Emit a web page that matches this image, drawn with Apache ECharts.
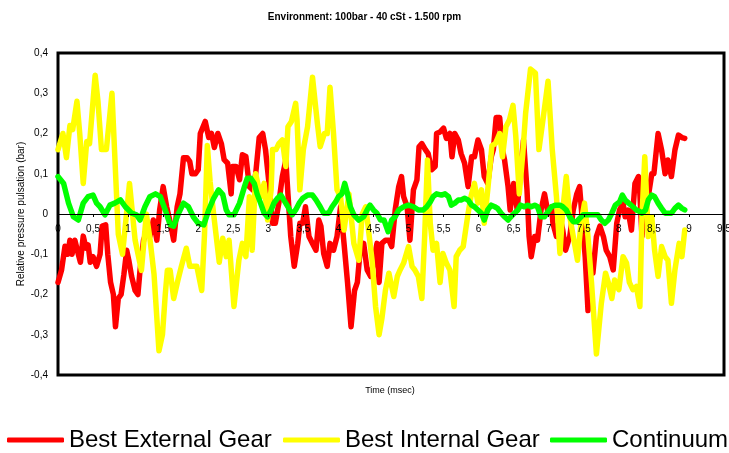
<!DOCTYPE html>
<html>
<head>
<meta charset="utf-8">
<script src="https://cdn.jsdelivr.net/npm/echarts@6/dist/echarts.min.js"></script>
<style>html,body{margin:0;padding:0;background:#fff;}#c{width:729px;height:453px;}</style>
</head>
<body>
<div id="c"></div>
<script>
var titleText = 'Environment: 100bar - 40 cSt - 1.500 rpm';
var xName = 'Time (msec)';
var yName = 'Relative pressure pulsation (bar)';
var seriesNames = ['Best External Gear', 'Best Internal Gear', 'Continuum'];

var extT = [0.00,0.05,0.10,0.14,0.17,0.20,0.24,0.29,0.32,0.36,0.40,0.43,0.46,0.50,0.55,0.60,0.63,0.68,0.71,0.75,0.79,0.82,0.86,0.90,0.94,0.98,1.01,1.05,1.10,1.14,1.17,1.22,1.27,1.31,1.36,1.41,1.45,1.50,1.55,1.60,1.65,1.70,1.74,1.79,1.84,1.88,1.91,1.96,2.00,2.03,2.10,2.15,2.19,2.23,2.28,2.33,2.37,2.42,2.47,2.49,2.54,2.59,2.63,2.68,2.73,2.78,2.82,2.87,2.92,2.96,3.01,3.06,3.10,3.15,3.20,3.25,3.28,3.32,3.37,3.42,3.45,3.49,3.53,3.58,3.63,3.68,3.72,3.75,3.79,3.84,3.88,3.93,3.98,4.03,4.08,4.13,4.18,4.23,4.27,4.31,4.36,4.41,4.46,4.50,4.55,4.58,4.62,4.67,4.72,4.76,4.81,4.86,4.90,4.93,4.98,5.02,5.07,5.12,5.15,5.19,5.24,5.28,5.33,5.38,5.40,5.45,5.50,5.54,5.59,5.62,5.66,5.71,5.75,5.80,5.85,5.90,5.94,5.99,6.04,6.08,6.13,6.18,6.21,6.25,6.30,6.34,6.37,6.42,6.45,6.50,6.55,6.59,6.64,6.69,6.72,6.75,6.80,6.84,6.89,6.94,6.99,7.04,7.06,7.11,7.16,7.20,7.24,7.30,7.35,7.40,7.44,7.49,7.52,7.56,7.59,7.63,7.68,7.73,7.78,7.82,7.87,7.92,7.97,8.01,8.06,8.09,8.13,8.18,8.23,8.28,8.30,8.33,8.38,8.42,8.47,8.50,8.56,8.61,8.66,8.70,8.75,8.80,8.85,8.90,8.94];
var extV = [-0.17,-0.14,-0.08,-0.10,-0.065,-0.10,-0.065,-0.10,-0.12,-0.055,-0.085,-0.077,-0.12,-0.106,-0.13,-0.10,-0.03,-0.027,-0.10,-0.17,-0.20,-0.28,-0.21,-0.20,-0.15,-0.09,-0.115,-0.155,-0.19,-0.20,-0.14,-0.065,-0.04,-0.056,-0.015,-0.065,0.01,0.068,0.018,-0.02,-0.065,0.018,0.05,0.14,0.14,0.13,0.10,0.10,0.11,0.20,0.23,0.19,0.20,0.165,0.20,0.175,0.135,0.126,0.05,0.118,0.118,0.085,0.147,0.143,0.068,0.06,0.10,0.19,0.20,0.16,0.076,-0.023,-0.023,0.027,0.093,0.134,0.05,-0.056,-0.13,-0.073,-0.023,-0.023,0.018,-0.056,-0.073,-0.09,-0.015,-0.03,-0.098,-0.13,-0.073,-0.09,-0.056,0.018,-0.073,-0.17,-0.28,-0.19,-0.17,-0.09,-0.073,-0.139,-0.155,-0.122,-0.073,-0.17,-0.073,-0.065,-0.065,-0.081,0.01,0.068,0.093,0.043,0.018,-0.065,0.06,0.085,0.167,0.175,0.16,0.15,0.11,0.118,0.20,0.204,0.213,0.188,0.20,0.142,0.20,0.184,0.15,0.126,0.068,0.142,0.142,0.184,0.16,0.093,0.076,0.142,0.16,0.24,0.24,0.16,0.134,0.068,0.01,0.076,0.01,0.093,0.184,0.06,-0.056,-0.106,-0.056,-0.065,0.01,0.05,0.002,0.018,-0.023,-0.056,-0.007,-0.04,-0.09,-0.056,0.01,0.05,0.068,-0.04,-0.106,-0.24,-0.122,-0.147,-0.056,-0.03,-0.056,-0.09,-0.106,-0.139,-0.023,0.01,0.027,-0.007,0.01,-0.04,0.076,0.093,0.05,-0.056,0.05,0.043,0.10,0.10,0.20,0.159,0.10,0.134,0.093,0.159,0.196,0.19,0.188];

var intT = [0.00,0.07,0.12,0.17,0.21,0.27,0.31,0.36,0.41,0.45,0.53,0.57,0.62,0.69,0.77,0.86,0.92,1.02,1.10,1.19,1.26,1.31,1.37,1.44,1.49,1.53,1.56,1.60,1.65,1.71,1.76,1.83,1.88,1.93,1.98,2.05,2.09,2.13,2.17,2.22,2.30,2.35,2.40,2.44,2.51,2.58,2.63,2.68,2.73,2.77,2.82,2.89,2.94,2.99,3.04,3.06,3.11,3.15,3.20,3.25,3.28,3.33,3.39,3.41,3.45,3.50,3.56,3.63,3.70,3.74,3.80,3.84,3.88,3.93,3.98,4.03,4.08,4.15,4.22,4.29,4.34,4.39,4.44,4.48,4.53,4.58,4.62,4.67,4.72,4.79,4.84,4.88,4.93,5.00,5.05,5.09,5.14,5.19,5.23,5.27,5.31,5.35,5.40,5.45,5.49,5.54,5.59,5.65,5.68,5.73,5.78,5.85,5.89,5.94,5.99,6.04,6.08,6.13,6.19,6.24,6.30,6.34,6.39,6.44,6.49,6.53,6.58,6.63,6.67,6.74,6.81,6.86,6.93,6.99,7.05,7.11,7.16,7.20,7.25,7.30,7.35,7.41,7.46,7.51,7.56,7.61,7.68,7.75,7.81,7.85,7.90,7.94,8.00,8.06,8.11,8.15,8.20,8.25,8.30,8.33,8.37,8.42,8.47,8.51,8.56,8.61,8.66,8.70,8.75,8.80,8.86,8.90,8.94];
var intV = [0.16,0.20,0.14,0.22,0.21,0.28,0.20,0.076,0.18,0.175,0.345,0.28,0.16,0.16,0.30,-0.05,-0.10,0.076,-0.065,-0.14,0.00,-0.06,-0.15,-0.34,-0.30,-0.20,-0.14,-0.14,-0.21,-0.165,-0.13,-0.085,-0.13,-0.13,-0.13,-0.19,-0.05,0.17,0.08,0.00,-0.12,-0.06,-0.106,-0.065,-0.23,-0.115,-0.073,-0.106,0.043,-0.09,0.10,0.043,0.076,-0.015,0.06,0.16,0.16,0.175,0.184,0.118,0.217,0.23,0.275,0.234,0.06,0.16,0.217,0.34,0.225,0.167,0.20,0.20,0.315,0.20,0.06,0.043,-0.04,0.05,-0.073,-0.115,0.00,0.018,-0.056,-0.115,-0.23,-0.30,-0.26,-0.19,-0.147,-0.205,-0.155,-0.139,-0.122,-0.081,-0.13,-0.139,-0.155,-0.21,-0.056,0.134,-0.023,-0.09,-0.073,-0.17,-0.098,-0.122,-0.139,-0.23,-0.106,-0.09,-0.081,0.002,0.043,0.076,0.027,0.06,-0.023,0.06,0.17,0.175,0.20,0.142,0.217,0.234,0.27,0.193,0.05,0.15,0.25,0.36,0.35,0.16,0.25,0.33,0.16,0.043,-0.098,0.01,0.093,-0.007,-0.056,-0.115,-0.023,0.027,-0.056,-0.17,-0.348,-0.222,-0.147,-0.17,-0.21,-0.164,-0.188,-0.106,-0.122,-0.17,-0.188,-0.18,-0.23,-0.007,0.142,-0.056,-0.007,-0.09,-0.155,-0.081,-0.106,-0.115,-0.222,-0.139,-0.073,-0.106,-0.04];

var conT = [0.00,0.08,0.15,0.22,0.29,0.36,0.43,0.50,0.55,0.60,0.67,0.74,0.81,0.89,0.96,1.05,1.12,1.17,1.24,1.31,1.39,1.46,1.53,1.60,1.65,1.72,1.79,1.86,1.93,2.00,2.08,2.15,2.22,2.29,2.35,2.40,2.44,2.51,2.59,2.66,2.70,2.75,2.80,2.84,2.89,2.94,2.99,3.04,3.08,3.13,3.18,3.22,3.28,3.34,3.39,3.44,3.49,3.56,3.63,3.68,3.74,3.79,3.86,3.91,3.96,4.00,4.05,4.09,4.13,4.17,4.22,4.29,4.36,4.41,4.45,4.50,4.55,4.60,4.65,4.71,4.76,4.81,4.86,4.93,5.00,5.07,5.14,5.21,5.26,5.31,5.35,5.40,5.47,5.52,5.57,5.61,5.66,5.71,5.75,5.80,5.85,5.90,5.94,5.99,6.04,6.08,6.13,6.18,6.23,6.27,6.32,6.37,6.42,6.46,6.51,6.56,6.60,6.65,6.70,6.75,6.80,6.84,6.89,6.94,6.99,7.04,7.09,7.16,7.20,7.25,7.30,7.35,7.40,7.44,7.49,7.56,7.63,7.70,7.75,7.80,7.85,7.90,7.95,8.01,8.05,8.09,8.14,8.20,8.25,8.30,8.33,8.38,8.42,8.47,8.51,8.56,8.61,8.66,8.70,8.75,8.80,8.85,8.90,8.94];
var conV = [0.093,0.076,0.027,-0.007,-0.015,0.027,0.043,0.047,0.027,0.018,-0.002,0.022,0.027,0.035,0.018,0.002,-0.002,-0.015,0.018,0.043,0.05,0.043,0.01,-0.027,-0.03,0.002,0.027,0.018,-0.007,-0.023,-0.027,0.01,0.039,0.06,0.048,0.01,-0.002,-0.002,0.027,0.068,0.089,0.089,0.076,0.05,0.027,0.002,-0.007,0.01,0.027,0.039,0.047,0.035,0.018,-0.002,0.01,0.027,0.039,0.047,0.047,0.035,0.018,0.002,0.002,0.018,0.03,0.043,0.05,0.076,0.05,0.018,-0.002,-0.015,-0.007,0.01,0.022,0.01,0.002,-0.015,-0.015,-0.044,-0.015,-0.007,0.01,0.018,0.022,0.018,0.01,0.01,0.018,0.03,0.043,0.05,0.047,0.05,0.043,0.022,0.027,0.035,0.035,0.039,0.035,0.022,0.018,0.01,0.002,-0.015,0.01,0.022,0.018,0.014,0.002,-0.007,-0.015,-0.007,0.002,0.01,0.022,0.018,0.022,0.018,0.022,0.018,-0.007,-0.007,0.006,0.018,0.022,0.022,0.018,0.01,-0.007,-0.019,-0.019,-0.011,-0.002,-0.002,-0.002,-0.002,-0.015,-0.023,-0.015,0.002,0.022,0.03,0.047,0.035,0.027,0.018,0.01,0.006,0.002,0.01,0.035,0.047,0.043,0.027,0.014,0.002,0.002,0.002,0.014,0.022,0.014,0.01];

var colors = ['#FF0000', '#FFFF00', '#00FF00'];
var legendLeft = [7, 283, 550];

function pairs(t, v) { return t.map(function (x, i) { return [x, v[i]]; }); }
function fmt(v) {
  var s = String(Math.round(v * 10) / 10);
  return s.replace('.', ',');
}

var legends = seriesNames.map(function (n, i) {
  return {
    top: 428, left: legendLeft[i], padding: 0,
    itemWidth: 57, itemHeight: 5, itemGap: 0,
    icon: 'roundRect',
    textStyle: { fontFamily: 'Liberation Sans, Arial', fontSize: 24, color: '#000' },
    data: [n]
  };
});

var chart = echarts.init(document.getElementById('c'), null, { renderer: 'canvas' });
chart.setOption({
  animation: false,
  backgroundColor: '#fff',
  title: {
    text: titleText, left: 'center', top: 7,
    textStyle: { fontFamily: 'Liberation Sans, Arial', fontSize: 10, fontWeight: 'bold', color: '#000' }
  },
  graphic: [{
    type: 'text', x: 390, y: 386,
    style: { text: xName, textAlign: 'center', font: '9px "Liberation Sans", Arial', fill: '#000' }
  }],
  legend: legends,
  grid: {
    left: 58, right: 5, top: 53, bottom: 78,
    outerBoundsMode: 'none', containLabel: false,
    show: true, borderColor: '#000', borderWidth: 3, backgroundColor: '#fff'
  },
  xAxis: {
    type: 'value', min: 0, max: 9.5, interval: 0.5,
    position: 'bottom', offset: -161, z: 5,
    axisLine: { onZero: false, lineStyle: { color: '#000', width: 1 } },
    axisTick: { show: true, length: 3, lineStyle: { color: '#000' } },
    axisLabel: { formatter: fmt, fontFamily: 'Liberation Sans, Arial', fontSize: 10, color: '#000', margin: 10 },
    splitLine: { show: false }
  },
  yAxis: {
    type: 'value', min: -0.4, max: 0.4, interval: 0.1,
    name: yName, nameLocation: 'middle', nameGap: 32, nameRotate: 90, nameMoveOverlap: false,
    nameTextStyle: { fontFamily: 'Liberation Sans, Arial', fontSize: 10, color: '#000' },
    axisLine: { show: false },
    axisTick: { show: false },
    axisLabel: { formatter: fmt, fontFamily: 'Liberation Sans, Arial', fontSize: 10, color: '#000', margin: 10 },
    splitLine: { show: false }
  },
  series: [
    { name: seriesNames[0], type: 'line', data: pairs(extT, extV), showSymbol: false, symbol: 'none',
      color: colors[0], lineStyle: { width: 5.5, color: colors[0], cap: 'round', join: 'round' } },
    { name: seriesNames[1], type: 'line', data: pairs(intT, intV), showSymbol: false, symbol: 'none',
      color: colors[1], lineStyle: { width: 5.5, color: colors[1], cap: 'round', join: 'round' } },
    { name: seriesNames[2], type: 'line', data: pairs(conT, conV), showSymbol: false, symbol: 'none',
      color: colors[2], lineStyle: { width: 5.5, color: colors[2], cap: 'round', join: 'round' } }
  ]
});
</script>
</body>
</html>
